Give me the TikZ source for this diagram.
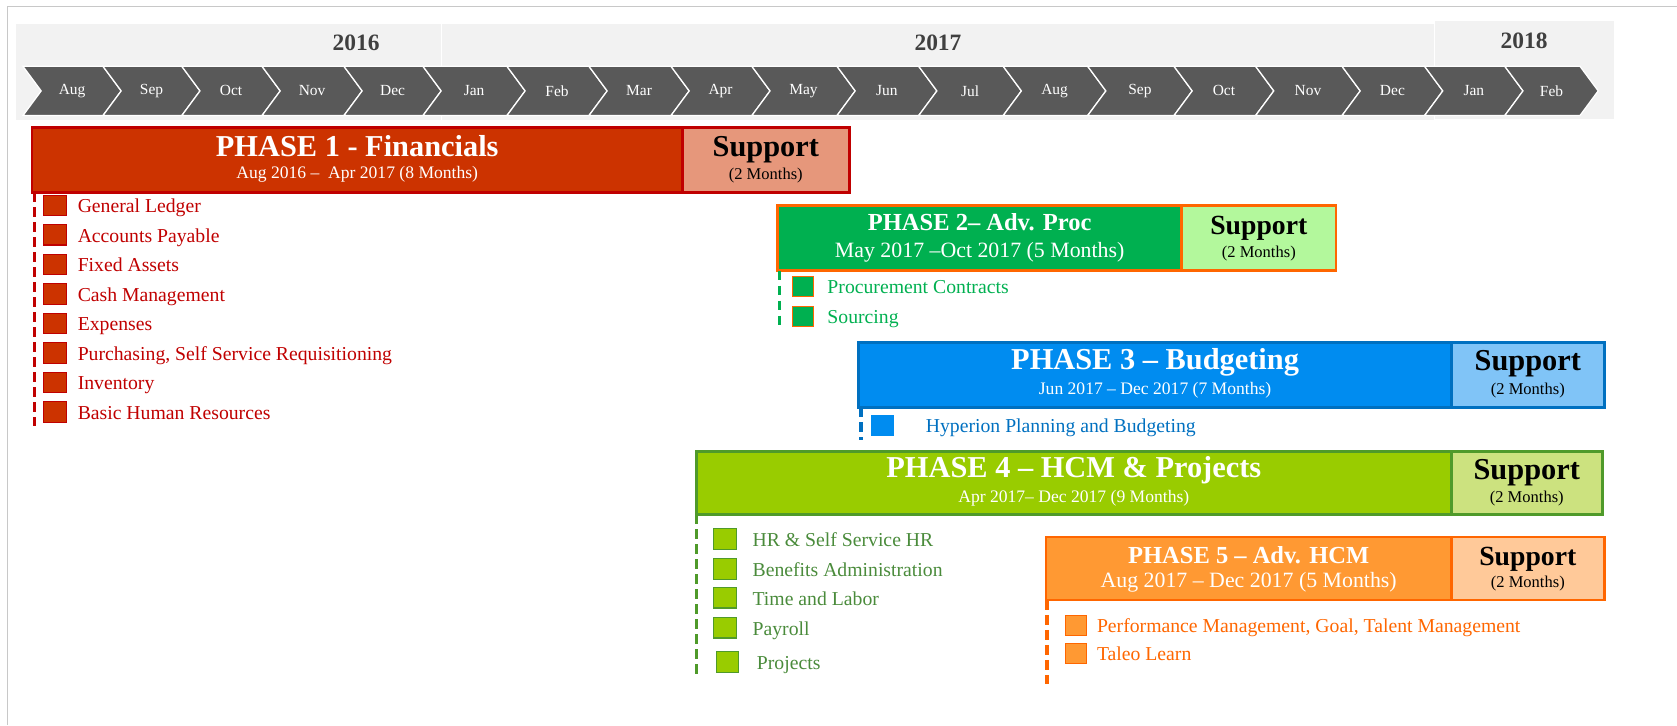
\documentclass[tikz,border=0pt]{standalone}
\usepackage{fontspec}
\setmainfont{Liberation Serif}
\usetikzlibrary{positioning, calc}

\definecolor{framegray}{HTML}{C8C8C8}
\definecolor{bandgray}{HTML}{F2F2F2}
\definecolor{chevgray}{HTML}{595959}
\definecolor{yeargray}{HTML}{404040}
\definecolor{redfill}{HTML}{CC3300}
\definecolor{redline}{HTML}{C00000}
\definecolor{redsup}{HTML}{E6977B}
\definecolor{grnfill}{HTML}{00B050}
\definecolor{orgline}{HTML}{FF6600}
\definecolor{grnsup}{HTML}{B3F89C}
\definecolor{blufill}{HTML}{008CF0}
\definecolor{bluline}{HTML}{0070C0}
\definecolor{blusup}{HTML}{80C4F7}
\definecolor{limfill}{HTML}{99CC00}
\definecolor{limline}{HTML}{4F9A2A}
\definecolor{limsup}{HTML}{CCE27F}
\definecolor{limtxt}{HTML}{4A8B3B}
\definecolor{orgfill}{HTML}{FF9933}
\definecolor{orgsup}{HTML}{FFC999}

\begin{document}
\begin{tikzpicture}[x=1bp, y=-1bp, node distance=10bp,
    monthlbl/.style={text=white, font=\fontsize{14.5}{15}\selectfont},
    yearlbl/.style={text=yeargray, font=\bfseries\fontsize{22}{24}\selectfont},
    phasebar/.style={draw, line width=2.5bp, anchor=north west, minimum height=61bp, inner sep=0pt, outer sep=0pt},
    supbox/.style={phasebar},
    bigttl/.style={text=white, font=\bfseries\fontsize{28.5}{30}\selectfont},
    midttl/.style={text=white, font=\bfseries\fontsize{23}{25}\selectfont},
    datelbl/.style={text=white, font=\fontsize{16.5}{18}\selectfont},
    datelblbig/.style={text=white, font=\fontsize{20.5}{22}\selectfont},
    supttl/.style={font=\bfseries\fontsize{28.5}{30}\selectfont},
    supttlmid/.style={font=\bfseries\fontsize{26}{28}\selectfont},
    suplen/.style={font=\fontsize{15.5}{17}\selectfont},
    sqbox/.style={draw, line width=1bp, minimum width=22bp, minimum height=19bp, inner sep=0pt},
    itemtxt/.style={font=\fontsize{18.5}{20}\selectfont, inner sep=0pt, text height=16bp, text depth=2.5bp},
    leadline/.style={line width=3.2bp, dash pattern=on 9bp off 5bp}
]
\useasboundingbox (0,0) rectangle (1568,678);
\draw[framegray, line width=1.5bp] (7,678) -- (7,6) -- (1568,6);

% year band
\fill[bandgray] (15,22) rectangle (412,112);
\fill[bandgray] (413.5,22) rectangle (1340.5,112);
\fill[bandgray] (1342,20) rectangle (1509,111);
\node[yearlbl] (y2016) at (333,40) {2016};
\node[yearlbl] (y2017) at (877,40) {2017};
\node[yearlbl] (y2018) at (1425,38) {2018};

% months
\foreach \a/\b/\m [count=\i] in {21.5/96.3/Aug, 96.3/170/Sep, 170/245/Oct, 245/321.6/Nov, 321.6/395.5/Dec,
    395.5/474/Jan, 474/550.7/Feb, 550.7/627.4/Mar, 627.4/703/Apr, 703/782.6/May, 782.6/859/Jun,
    859/938/Jul, 938/1017/Aug, 1017/1097.7/Sep, 1097.7/1174/Oct, 1174/1254.8/Nov, 1254.8/1332/Dec,
    1332/1407/Jan, 1407/1477.3/Feb}{
  \filldraw[chevgray, draw=white, line width=1.2bp] (\a,62) -- (\b,62) -- (\b+17,85) -- (\b,108) -- (\a,108) -- (\a+17,85) -- cycle;
  \node[monthlbl] (m\i) at ({(\a+\b)/2+8.5},85) {\m};
}

% phase 1
\node[phasebar, fill=redfill, draw=redline, minimum width=608bp] (p1) at (30,119) {};
\node[supbox, fill=redsup, draw=redline, minimum width=156bp, right=0bp of p1] (s1) {};
\node[bigttl] (p1t) at ($(p1.center)+(0,-12.5)$) {PHASE 1 - Financials};
\node[datelbl] (p1d) at ($(p1.center)+(0,13.5)$) {Aug 2016 – \ Apr 2017 (8 Months)};
\node[supttl] (s1t) at ($(s1.center)+(0,-9.5)$) {Support};
\node[suplen] (s1d) at ($(s1.center)+(0,14.5)$) {(2 Months)};
\coordinate (p1e) at (32,398);
\draw[leadline, redline] (p1e |- p1.south) -- (p1e);
\foreach \t [count=\i] in {General Ledger, Accounts Payable, Fixed Assets, Cash Management, Expenses,
    {Purchasing, Self Service Requisitioning}, Inventory, Basic Human Resources}{
  \node[sqbox, fill=redfill, draw=redline] (a\i) at (51.5,164.4+27.6*\i) {};
  \node[itemtxt, text=redline, right=9.5bp of a\i] (at\i) {\t};
}

% phase 2
\node[phasebar, fill=grnfill, draw=orgline, minimum width=378bp] (p2) at (727,192) {};
\node[supbox, fill=grnsup, draw=orgline, minimum width=144bp, right=0bp of p2] (s2) {};
\node[midttl] (p2t) at ($(p2.center)+(0,-14.5)$) {PHASE 2– Adv. Proc};
\node[datelblbig] (p2d) at ($(p2.center)+(0,13.5)$) {May 2017 –Oct 2017 (5 Months)};
\node[supttlmid] (s2t) at ($(s2.center)+(0,-9.5)$) {Support};
\node[suplen] (s2d) at ($(s2.center)+(0,15)$) {(2 Months)};
\coordinate (p2e) at (729,305);
\draw[leadline, grnfill] (p2e |- p2.south) -- (p2e);
\foreach \t [count=\i] in {Procurement Contracts, Sourcing}{
  \node[sqbox, fill=grnfill, draw=orgline, minimum width=20bp] (b\i) at (751,240+28*\i) {};
  \node[itemtxt, text=grnfill, right=12bp of b\i] (bt\i) {\t};
}

% phase 3
\node[phasebar, fill=blufill, draw=bluline, minimum width=554bp] (p3) at (803,320) {};
\node[supbox, fill=blusup, draw=bluline, minimum width=143bp, right=0bp of p3] (s3) {};
\node[bigttl] (p3t) at ($(p3.center)+(0,-11.5)$) {PHASE 3 – Budgeting};
\node[datelbl] (p3d) at ($(p3.center)+(0,14.5)$) {Jun 2017 – Dec 2017 (7 Months)};
\node[supttl] (s3t) at ($(s3.center)+(0,-10.5)$) {Support};
\node[suplen] (s3d) at ($(s3.center)+(0,15)$) {(2 Months)};
\coordinate (p3e) at (805,411);
\draw[leadline, bluline] (p3e |- p3.south) -- (p3e);
\node[sqbox, fill=blufill, draw=blufill, minimum width=20bp] (c1) at (825,398) {};
\node[itemtxt, text=bluline, right=30bp of c1] (ct1) {Hyperion Planning and Budgeting};

% phase 4
\node[phasebar, fill=limfill, draw=limline, minimum width=706bp, minimum height=59bp] (p4) at (651,422) {};
\node[supbox, fill=limsup, draw=limline, minimum width=141bp, minimum height=59bp, right=0bp of p4] (s4) {};
\node[bigttl] (p4t) at ($(p4.center)+(0,-11.5)$) {PHASE 4 – HCM \& Projects};
\node[datelbl] (p4d) at ($(p4.center)+(0,14.5)$) {Apr 2017– Dec 2017 (9 Months)};
\node[supttl] (s4t) at ($(s4.center)+(0,-10)$) {Support};
\node[suplen] (s4d) at ($(s4.center)+(0,15)$) {(2 Months)};
\coordinate (p4e) at (651,632);
\draw[leadline, limline] (p4e |- p4.south) -- (p4e);
\foreach \t/\y [count=\i] in {HR \& Self Service HR/504, Benefits Administration/532, Time and Labor/559, Payroll/587}{
  \node[sqbox, fill=limfill, draw=limline, minimum width=21bp] (d\i) at (678,\y) {};
  \node[itemtxt, text=limtxt, right=14.5bp of d\i] (dt\i) {\t};
}
\node[sqbox, fill=limfill, draw=limline, minimum width=21bp] (d5) at (680,619) {};
\node[itemtxt, text=limtxt, right=16.5bp of d5] (dt5) {Projects};

% phase 5
\node[phasebar, fill=orgfill, draw=orgline, minimum width=379bp, minimum height=59bp] (p5) at (978,502) {};
\node[supbox, fill=orgsup, draw=orgline, minimum width=143bp, minimum height=59bp, right=0bp of p5] (s5) {};
\node[midttl] (p5t) at ($(p5.center)+(0,-12.5)$) {PHASE 5 – Adv. HCM};
\node[datelblbig] (p5d) at ($(p5.center)+(0,12.5)$) {Aug 2017 – Dec 2017 (5 Months)};
\node[supttlmid] (s5t) at ($(s5.center)+(0,-9)$) {Support};
\node[suplen] (s5d) at ($(s5.center)+(0,14)$) {(2 Months)};
\coordinate (p5e) at (979,640);
\draw[leadline, orgline] (p5e |- p5.south) -- (p5e);
\foreach \t [count=\i] in {{Performance Management, Goal, Talent Management}, Taleo Learn}{
  \node[sqbox, fill=orgfill, draw=orgline, minimum width=20bp] (e\i) at (1006,559+26*\i) {};
  \node[itemtxt, text=orgline, right=9bp of e\i] (et\i) {\t};
}
\end{tikzpicture}
\end{document}
